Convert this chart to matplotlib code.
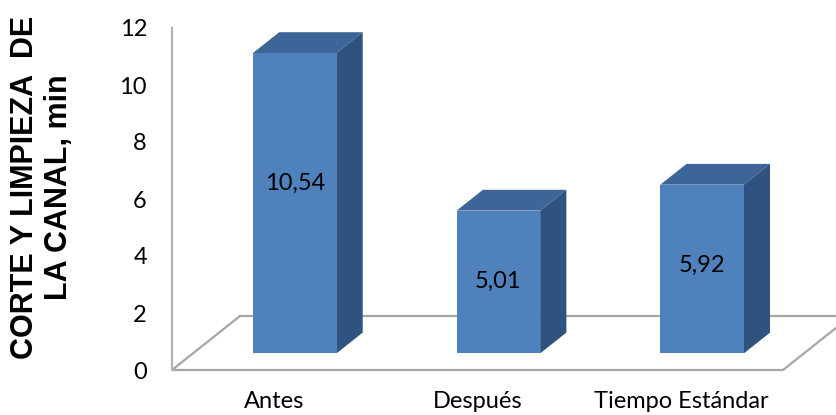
import matplotlib
matplotlib.use("Agg")
import matplotlib.pyplot as plt
from matplotlib.patches import Polygon

# ---- data ----
categories = ["Antes", "Después", "Tiempo Estándar"]
values = [10.54, 5.01, 5.92]
y_ticks = [0, 2, 4, 6, 8, 10, 12]
y_label = "CORTE Y LIMPIEZA  DE\nLA CANAL, min"

# ---- style ----
FRONT = "#4F81BD"
TOP = "#3E6598"
SIDE = "#30527F"
GRID = "#A6A6A6"
FONT = "Lato"

fig = plt.figure(figsize=(8.37, 4.15), dpi=100)
fig.patch.set_facecolor("white")
ax = fig.add_axes([172 / 837, 45 / 415, 611 / 837, 342 / 415])
ax.set_xlim(-0.5, len(categories) - 0.5)
ax.set_ylim(0, 12)

# oblique projection parameters (data units)
FDX, FDY = 0.334, 1.895        # full floor depth
BF = 0.385                     # bar depth fraction of floor depth
GF = (1 - BF) / 2              # bar front offset fraction
bdx, bdy = FDX * BF, FDY * BF
gx, gy = FDX * GF, FDY * GF
w = 0.41

# floor outline
n = len(categories)
xl, xr = -0.5, n - 0.5
floor = [(xl + FDX, FDY), (xl, 0), (xr, 0), (xr + FDX, FDY), (xl + FDX, FDY)]
fx, fy = zip(*floor)
ax.plot(fx, fy, color=GRID, lw=1.6, clip_on=False, zorder=1)

# bars
xs = [i + gx for i in range(n)]
ax.bar(xs, values, width=w, bottom=gy, color=FRONT, clip_on=False, zorder=3,
       linewidth=0)
for i, v in enumerate(values):
    x0 = xs[i] - w / 2
    x1 = x0 + w
    y0, y1 = gy, gy + v
    top = Polygon([(x0, y1), (x1, y1), (x1 + bdx, y1 + bdy), (x0 + bdx, y1 + bdy)],
                  closed=True, facecolor=TOP, edgecolor="none", clip_on=False, zorder=2)
    side = Polygon([(x1, y0), (x1 + bdx, y0 + bdy), (x1 + bdx, y1 + bdy), (x1, y1)],
                   closed=True, facecolor=SIDE, edgecolor="none", clip_on=False, zorder=2)
    ax.add_patch(top)
    ax.add_patch(side)
    ax.text(xs[i], 0.62 * v, f"{v:.2f}".replace(".", ","), ha="center", va="center",
            fontsize=17, family=FONT, color="black", zorder=5)

# category labels
for i, c in enumerate(categories):
    ax.text(i, -38 / 342, c, transform=ax.get_xaxis_transform(), ha="center",
            va="baseline", fontsize=17, family=FONT, color="black")

# axes styling
for s in ["top", "right", "bottom"]:
    ax.spines[s].set_visible(False)
ax.spines["left"].set_color("#B5B5B5")
ax.spines["left"].set_linewidth(1.6)
ax.set_xticks([])
ax.set_yticks(y_ticks)
ax.set_yticklabels([str(t) for t in y_ticks], fontsize=17, family=FONT)
ax.tick_params(axis="y", length=0, pad=18)
ax.patch.set_alpha(0)

fig.text(42 / 837, 1 - 187 / 415, y_label, rotation=90, ha="center", va="center",
         multialignment="center", fontsize=22, fontweight="bold",
         family="Liberation Sans", linespacing=1.2)

fig.savefig("out.png", dpi=100, facecolor="white")
